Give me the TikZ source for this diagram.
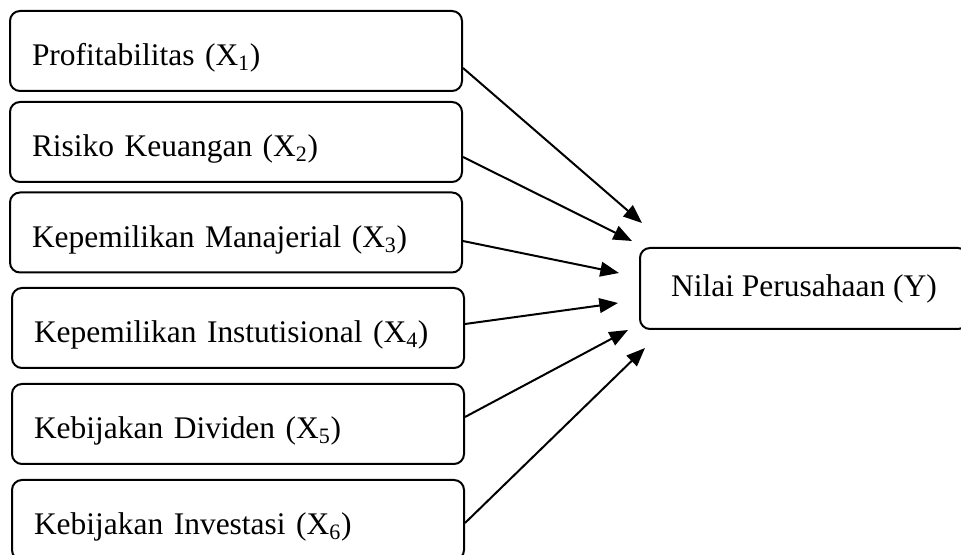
\documentclass[tikz,border=0pt]{standalone}
\usepackage{fontspec}
\setmainfont{Liberation Serif}
\usetikzlibrary{arrows.meta}

\begin{document}
\begin{tikzpicture}[x=0.75pt,y=0.75pt,yscale=-1,xscale=1,
    varbox/.style={draw, line width=1.5pt, rounded corners=7.5pt,
        minimum width=339pt, minimum height=60pt, inner xsep=16.5pt,
        text width=306pt, align=left, text height=24pt, text depth=1.5pt,
        font=\fontsize{23.6}{28}\selectfont},
    ybox/.style={draw, line width=1.5pt, rounded corners=7.5pt,
        minimum width=246pt, minimum height=60.75pt,
        font=\fontsize{23.6}{28}\selectfont},
    link/.style={line width=1.5pt, -{Triangle[length=14pt,width=11pt]}}]
        \useasboundingbox (0,0) rectangle (961,555);
        %Rounded Rect: independent variables
        \node [varbox] (x1) at (236,51) {Profitabilitas (X\textsubscript{1})};
        \node [varbox] (x2) at (236,142) {Risiko Keuangan (X\textsubscript{2})};
        \node [varbox] (x3) at (236,232.5) {Kepemilikan Manajerial (X\textsubscript{3})};
        \node [varbox] (x4) at (238,328) {Kepemilikan Instutisional (X\textsubscript{4})};
        \node [varbox] (x5) at (238,424) {Kebijakan Dividen (X\textsubscript{5})};
        \node [varbox] (x6) at (238,520) {Kebijakan Investasi (X\textsubscript{6})};
        %Rounded Rect: dependent variable
        \node [ybox] (y) at (804,288.5) {Nilai Perusahaan (Y)};

        %arrow tips in front of Y
        \coordinate (t1) at (642,223);
        \coordinate (t2) at (632,241);
        \coordinate (t3) at (619,273);
        \coordinate (t4) at (618,303);
        \coordinate (t5) at (628,330);
        \coordinate (t6) at (645,348);

        %Straight Lines
        \draw [link] ([yshift=12.75pt]x1.east) -- (t1) ;
        \draw [link] ([yshift=11.25pt]x2.east) -- (t2) ;
        \draw [link] ([yshift=6.4pt]x3.east) -- (t3) ;
        \draw [link] ([yshift=-3pt]x4.east) -- (t4) ;
        \draw [link] ([yshift=-5.25pt]x5.east) -- (t5) ;
        \draw [link] ([yshift=2.25pt]x6.east) -- (t6) ;
\end{tikzpicture}
\end{document}
